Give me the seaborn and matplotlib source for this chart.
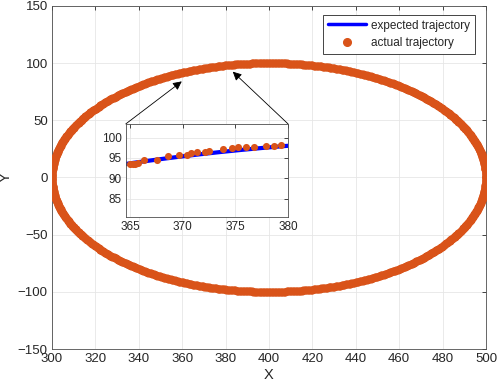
import numpy as np
import pandas as pd
import seaborn as sns
import matplotlib.pyplot as plt
from matplotlib.lines import Line2D

# expected trajectory: ellipse centre and radii
center_x, center_y = 400, 0
radius_x, radius_y = 100, 100
n_samples = 900

# actual trajectory samples read from the zoomed window
zoom_x = [365.0, 365.3, 365.5, 365.8, 366.3, 367.6, 368.6, 369.7, 370.4, 370.8, 371.4,
          372.1, 372.5, 373.8, 374.7, 375.3, 376.0, 376.8, 377.9, 378.7, 379.3]
zoom_y = [93.6, 93.6, 93.6, 93.8, 94.4, 94.6, 95.4, 95.6, 95.6, 96.2, 96.4,
          96.5, 96.6, 97.3, 97.5, 97.6, 97.6, 97.8, 97.9, 97.9, 98.1]

orange = '#D95319'
dark = '#262626'

t = np.linspace(0, 2 * np.pi, n_samples)
traj = pd.DataFrame({'x': center_x + radius_x * np.cos(t),
                     'y': center_y + radius_y * np.sin(t)})
zoom_df = pd.DataFrame({'x': zoom_x, 'y': zoom_y})

sns.set_style('white')
plt.rcParams['font.family'] = ['Liberation Sans', 'DejaVu Sans']
plt.rcParams['text.color'] = dark
plt.rcParams['axes.labelcolor'] = dark
plt.rcParams['xtick.color'] = dark
plt.rcParams['ytick.color'] = dark

fig = plt.figure(figsize=(4.98, 3.89), dpi=100)
ax = fig.add_axes([0.1044, 0.1028, 0.8715, 0.8820])

sns.lineplot(data=traj, x='x', y='y', sort=False, estimator=None, errorbar=None,
             color='blue', linewidth=2, ax=ax)
sns.scatterplot(data=traj, x='x', y='y', color=orange, s=34, linewidth=0, ax=ax, zorder=3)

ax.set_xlim(300, 500)
ax.set_ylim(-150, 150)
ax.set_xticks(range(300, 501, 20))
ax.set_yticks(range(-150, 151, 50))
ax.grid(True, color='#e6e6e6', linewidth=0.6)
ax.tick_params(direction='in', length=3, width=0.6, labelsize=9.5, top=True, right=True,
               pad=3)
for sp in ax.spines.values():
    sp.set_color('#4d4d4d')
    sp.set_linewidth(0.6)
ax.set_xlabel('X', fontsize=10.5, labelpad=2)
ax.set_ylabel('Y', fontsize=10.5)
ax.yaxis.set_label_coords(-0.09, 0.5)

handles = [Line2D([], [], color='blue', linewidth=2.5),
           Line2D([], [], color=orange, marker='o', linestyle='none', markersize=5.5)]
leg = ax.legend(handles, ['expected trajectory', 'actual trajectory'],
                loc='upper right', bbox_to_anchor=(0.975, 0.974), borderaxespad=0,
                fontsize=8.5, fancybox=False, framealpha=1, handlelength=3.2,
                handletextpad=0.5, borderpad=0.4, labelspacing=0.45)
leg.get_frame().set_edgecolor(dark)
leg.get_frame().set_linewidth(0.6)

# arrows from inset corners to the curve
ax.annotate('', xy=(359.8, 84.0), xytext=(334.0, 46.8),
            arrowprops=dict(arrowstyle='-|>', color='black', lw=0.6,
                            mutation_scale=13, shrinkA=0, shrinkB=0), zorder=5)
ax.annotate('', xy=(383.3, 92.5), xytext=(408.8, 46.8),
            arrowprops=dict(arrowstyle='-|>', color='black', lw=0.6,
                            mutation_scale=13, shrinkA=0, shrinkB=0), zorder=5)

# inset
ins = fig.add_axes([0.2524, 0.442, 0.326, 0.239])
ins.set_facecolor('white')
sns.lineplot(data=traj, x='x', y='y', sort=False, estimator=None, errorbar=None,
             color='blue', linewidth=3, ax=ins)
sns.scatterplot(data=zoom_df, x='x', y='y', color=orange, s=26, linewidth=0, ax=ins,
                zorder=3)
ins.set_xlim(364.6, 380)
ins.set_ylim(80.5, 103.3)
ins.set_xticks([365, 370, 375, 380])
ins.set_yticks([85, 90, 95, 100])
ins.grid(True, color='#e6e6e6', linewidth=0.6)
ins.tick_params(direction='in', length=3, width=0.6, labelsize=8.5, top=True, right=True,
                pad=3)
for sp in ins.spines.values():
    sp.set_color('#4d4d4d')
    sp.set_linewidth(0.6)
ins.set_xlabel('')
ins.set_ylabel('')

fig.savefig('out.png', dpi=100)
